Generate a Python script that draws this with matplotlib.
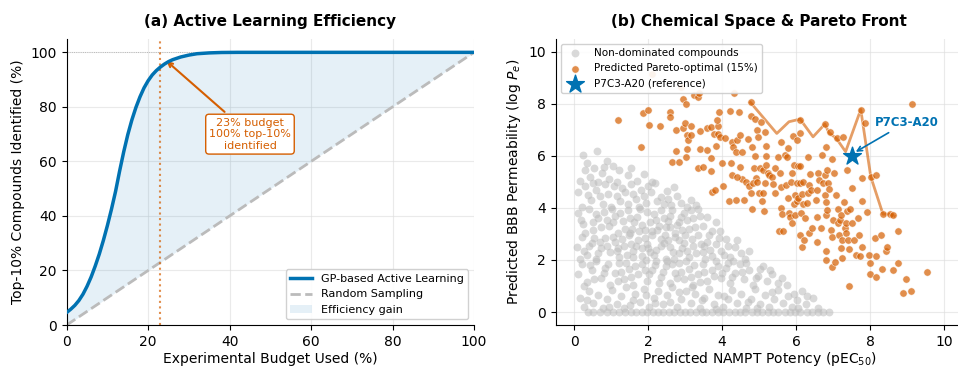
import matplotlib
matplotlib.use("Agg")
import matplotlib.pyplot as plt
import numpy as np

# ---- panel (a): active learning curve ----
budget = [0, 1, 2, 3, 4, 5, 6, 7, 8, 9, 10, 11, 12, 13, 14, 15, 16, 17, 18, 19, 20,
          21, 22, 23, 24, 25, 26, 28, 30, 32, 35, 38, 42, 50, 60, 70, 80, 90, 100]
gp_found = [4.6, 5.8, 7.2, 9.0, 11.3, 14.2, 17.6, 21.6, 26.0, 31.0, 36.5, 42.5, 49.0,
            56.5, 63.5, 69.8, 75.2, 79.8, 83.7, 87.0, 89.6, 91.7, 93.3, 94.6, 95.7,
            96.6, 97.3, 98.3, 99.0, 99.5, 99.8, 99.95, 100, 100, 100, 100, 100, 100, 100]
random_found = budget
budget_mark = 23

# ---- panel (b): chemical space ----
gray_pts = [
    # upper band
    (0.25, 6.02), (0.62, 6.2), (0.35, 5.72), (0.88, 5.82), (0.55, 5.55), (0.15, 5.05), (0.42, 5.2),
    (0.75, 5.35), (1.05, 5.6), (1.22, 5.45), (0.95, 5.1), (1.45, 5.25), (1.7, 5.05), (0.3, 5.45),
    (1.15, 5.0), (0.65, 5.0), (1.9, 5.3), (2.1, 5.0), (1.55, 5.55), (0.82, 5.58),
    (0.12, 4.6), (0.3, 4.85), (0.45, 4.3), (0.6, 4.7), (0.78, 4.15), (0.92, 4.55), (1.08, 4.85),
    (1.25, 4.25), (1.38, 4.6), (1.55, 4.9), (1.68, 4.35), (1.82, 4.7), (1.95, 4.2), (2.08, 4.6),
    (2.2, 4.95), (2.35, 4.4), (2.5, 4.65), (2.62, 4.1), (2.78, 4.45), (2.9, 4.2), (3.05, 4.05),
    (0.22, 4.05), (0.52, 4.95), (1.0, 4.05), (1.45, 4.15), (2.0, 4.85), (2.42, 4.15), (1.15, 4.45),
    (0.7, 4.45), (1.75, 4.05), (2.25, 4.25), (2.7, 4.8), (3.15, 4.3), (0.38, 4.5), (1.9, 4.45),
    (1.3, 4.75), (0.85, 4.9), (2.55, 4.35), (3.3, 4.1), (1.6, 4.55),
    (0.1, 3.8), (0.25, 3.4), (0.4, 3.95), (0.52, 3.15), (0.65, 3.6), (0.8, 3.85), (0.95, 3.3),
    (1.1, 3.7), (1.2, 3.05), (1.32, 3.5), (1.45, 3.9), (1.58, 3.2), (1.7, 3.65), (1.85, 3.35),
    (1.98, 3.85), (2.1, 3.1), (2.22, 3.55), (2.35, 3.9), (2.48, 3.25), (2.6, 3.7), (2.72, 3.05),
    (2.85, 3.45), (2.98, 3.8), (3.1, 3.2), (3.22, 3.6), (3.35, 3.95), (3.48, 3.3), (3.6, 3.65),
    (3.72, 3.1), (3.85, 3.45), (0.3, 3.05), (0.72, 3.25), (1.02, 3.95), (1.38, 3.2), (1.78, 3.95),
    (2.05, 3.45), (2.42, 3.6), (2.78, 3.35), (3.05, 3.55), (3.4, 3.7), (0.58, 3.75), (0.88, 3.55),
    (1.25, 3.8), (1.62, 3.45), (1.92, 3.15), (2.3, 3.3), (2.65, 3.9), (2.92, 3.15), (3.28, 3.25),
    (3.95, 3.1), (0.18, 3.55), (1.5, 3.6), (2.15, 3.75), (2.55, 3.5), (3.15, 3.9),
    (0.08, 2.5), (0.22, 2.9), (0.35, 2.2), (0.48, 2.65), (0.6, 2.05), (0.72, 2.45), (0.85, 2.85),
    (0.98, 2.3), (1.1, 2.7), (1.22, 2.1), (1.35, 2.55), (1.48, 2.95), (1.6, 2.35), (1.72, 2.75),
    (1.85, 2.15), (1.98, 2.6), (2.1, 2.95), (2.22, 2.4), (2.35, 2.8), (2.48, 2.05), (2.6, 2.5),
    (2.72, 2.9), (2.85, 2.25), (2.98, 2.65), (3.1, 2.1), (3.22, 2.55), (3.35, 2.95), (3.48, 2.3),
    (3.6, 2.7), (3.72, 2.15), (3.85, 2.6), (3.98, 2.35), (4.1, 2.8), (4.22, 2.1), (4.35, 2.5),
    (4.5, 2.25), (4.62, 2.05), (0.28, 2.35), (0.55, 2.85), (0.9, 2.55), (1.15, 2.35), (1.42, 2.2),
    (1.68, 2.55), (1.92, 2.85), (2.15, 2.2), (2.42, 2.65), (2.68, 2.3), (2.92, 2.45), (3.18, 2.8),
    (3.42, 2.6), (3.68, 2.4), (3.92, 2.85), (4.15, 2.55), (4.4, 2.75), (0.15, 2.05), (0.65, 2.25),
    (1.05, 2.9), (1.55, 2.6), (2.05, 2.3), (2.55, 2.75), (3.05, 2.35), (3.55, 2.05), (4.05, 2.2),
    (4.72, 2.35), (0.4, 2.55),
    (0.1, 1.45), (0.22, 1.85), (0.35, 1.15), (0.48, 1.6), (0.6, 1.95), (0.72, 1.3), (0.85, 1.7),
    (0.98, 1.05), (1.1, 1.5), (1.22, 1.9), (1.35, 1.25), (1.48, 1.65), (1.6, 1.05), (1.72, 1.45),
    (1.85, 1.85), (1.98, 1.2), (2.1, 1.6), (2.22, 1.95), (2.35, 1.35), (2.48, 1.75), (2.6, 1.1),
    (2.72, 1.5), (2.85, 1.9), (2.98, 1.25), (3.1, 1.65), (3.22, 1.05), (3.35, 1.45), (3.48, 1.85),
    (3.6, 1.2), (3.72, 1.6), (3.85, 1.95), (3.98, 1.3), (4.1, 1.7), (4.22, 1.1), (4.35, 1.5),
    (4.48, 1.85), (4.6, 1.25), (4.72, 1.6), (4.85, 1.05), (4.98, 1.4), (5.1, 1.75), (5.22, 1.2),
    (5.35, 1.45), (5.5, 1.1), (5.62, 1.3), (0.28, 1.0), (0.55, 1.25), (0.92, 1.85), (1.28, 1.55),
    (1.65, 1.75), (2.02, 1.45), (2.4, 1.55), (2.78, 1.3), (3.15, 1.35), (3.52, 1.55), (3.9, 1.75),
    (4.28, 1.35), (4.65, 1.9), (5.02, 1.65), (0.42, 1.8), (0.8, 1.5), (1.18, 1.2), (1.55, 1.35),
    (1.92, 1.6), (2.3, 1.1), (2.65, 1.85), (3.02, 1.95), (3.4, 1.15), (3.78, 1.4), (4.15, 1.9),
    (4.55, 1.55), (4.92, 1.3), (5.3, 1.6), (5.75, 1.05), (2.9, 1.55),
    (0.15, 0.55), (0.28, 0.2), (0.4, 0.8), (0.52, 0.35), (0.65, 0.65), (0.78, 0.15), (0.9, 0.5),
    (1.02, 0.85), (1.15, 0.3), (1.28, 0.6), (1.4, 0.95), (1.52, 0.25), (1.65, 0.7), (1.78, 0.4),
    (1.9, 0.9), (2.02, 0.2), (2.15, 0.55), (2.28, 0.8), (2.4, 0.3), (2.52, 0.65), (2.65, 0.95),
    (2.78, 0.2), (2.9, 0.5), (3.02, 0.8), (3.15, 0.35), (3.28, 0.7), (3.4, 0.15), (3.52, 0.55),
    (3.65, 0.9), (3.78, 0.3), (3.9, 0.65), (4.02, 0.2), (4.15, 0.5), (4.28, 0.85), (4.4, 0.35),
    (4.52, 0.7), (4.65, 0.15), (4.78, 0.5), (4.9, 0.9), (5.02, 0.3), (5.15, 0.65), (5.28, 0.2),
    (5.4, 0.5), (5.52, 0.85), (5.65, 0.35), (5.78, 0.6), (5.9, 0.2), (6.02, 0.45), (6.15, 0.8),
    (6.28, 0.3), (6.45, 0.55), (6.6, 0.15), (6.3, 0.62), (0.35, 0.45), (0.95, 0.2), (1.6, 0.45),
    (2.2, 0.35), (2.85, 0.75), (3.45, 0.45), (4.05, 0.6), (4.7, 0.4), (5.35, 0.75), (5.95, 0.7),
    (1.35, 0.15), (2.6, 0.4), (3.85, 0.1), (4.95, 0.15), (6.05, 0.15), (1.95, 0.65), (3.2, 0.95),
    # denser core
    (1.3, 2.8), (1.75, 3.1), (2.0, 2.45), (2.45, 2.95), (2.85, 2.75), (1.5, 3.05), (2.25, 3.15),
    (1.05, 3.45), (1.85, 2.45), (2.7, 2.05), (3.3, 2.25), (1.4, 1.9), (2.5, 1.95), (3.65, 2.95),
    (0.7, 2.7), (1.95, 2.0), (3.0, 2.95), (2.2, 1.8), (1.2, 2.45), (2.6, 3.25), (3.5, 2.55),
    (1.6, 2.1), (2.9, 3.65), (2.35, 2.55), (0.5, 3.45), (4.3, 1.95), (4.0, 1.5), (3.25, 1.8),
]
# compounds clipped at zero permeability
gray_floor_x = [0.38, 0.52, 0.71, 0.9, 1.04, 1.22, 1.37, 1.55, 1.68, 1.83, 1.97, 2.13, 2.26,
                2.41, 2.57, 2.7, 2.86, 3.0, 3.14, 3.31, 3.45, 3.58, 3.74, 3.9, 4.03, 4.18,
                4.35, 4.49, 4.62, 4.8, 4.94, 5.08, 5.25, 5.38, 5.52, 5.7, 5.84, 5.97, 6.12,
                6.3, 6.44, 6.6, 6.72, 6.88]

pareto_pts = [
    (1.20, 7.37), (1.80, 6.33), (1.87, 7.63), (2.00, 7.78), (2.02, 7.18), (2.31, 7.14),
    (2.12, 9.14), (2.88, 8.63), (2.94, 8.18), (3.02, 7.99), (3.23, 8.34), (3.36, 8.25),
    (3.38, 8.43), (2.59, 7.68), (2.60, 7.48), (2.66, 5.75), (2.85, 5.77), (2.75, 6.20),
    (2.75, 6.99), (2.95, 7.06), (3.01, 7.25), (3.04, 6.81), (3.07, 6.61), (3.04, 6.27),
    (3.02, 5.97), (3.16, 7.16), (3.17, 6.80), (3.36, 5.52), (3.41, 6.95), (3.40, 6.25),
    (3.49, 5.58), (3.60, 7.08), (3.60, 6.22), (3.69, 5.93), (3.71, 5.43), (3.73, 4.60),
    (3.80, 4.69), (3.71, 7.12), (3.78, 6.82), (3.88, 7.14), (3.89, 6.82), (3.84, 6.39),
    (3.87, 7.37), (3.93, 7.68), (3.95, 6.71), (4.00, 5.74), (4.03, 4.84), (4.19, 4.28),
    (4.08, 6.70), (4.21, 7.72), (4.23, 5.74), (4.26, 5.26), (4.28, 6.52), (4.33, 8.43),
    (4.31, 6.35), (4.37, 6.16), (4.41, 6.61), (4.45, 7.68), (4.48, 6.79), (4.55, 6.16),
    (4.49, 5.58), (4.53, 5.10), (4.37, 4.31), (4.59, 4.31), (4.41, 5.20), (4.64, 5.01),
    (4.72, 4.84), (4.77, 8.05), (4.77, 7.54), (4.69, 6.66), (4.80, 6.33), (4.89, 7.40),
    (4.94, 6.99), (4.98, 6.71), (4.90, 6.00), (4.86, 5.52), (4.91, 5.13), (4.83, 4.94),
    (4.78, 4.58), (4.82, 3.94), (4.95, 5.00), (5.00, 4.56), (5.03, 5.52), (5.11, 5.45),
    (5.05, 7.31), (5.15, 6.93), (5.18, 5.99), (5.20, 5.65), (5.23, 5.35), (5.16, 4.97),
    (5.11, 4.58), (5.09, 4.26), (5.14, 3.87), (5.27, 5.26), (5.36, 5.17), (5.43, 5.52),
    (5.38, 4.91), (5.43, 4.56), (5.20, 6.38), (5.52, 5.97), (5.56, 5.33), (5.60, 4.81),
    (5.54, 3.11), (5.64, 3.11), (5.60, 3.98), (5.62, 3.76), (5.60, 6.52), (5.71, 6.03),
    (5.73, 4.88), (5.75, 5.97), (5.78, 6.29), (5.77, 4.39), (5.80, 3.79), (5.83, 3.64),
    (5.87, 5.00), (5.90, 5.33), (5.93, 6.76), (5.90, 3.43), (5.97, 3.72), (5.94, 4.16),
    (6.04, 6.61), (5.95, 5.65), (6.02, 4.97), (6.06, 5.61), (5.97, 4.49), (6.02, 4.26),
    (6.06, 4.39), (6.10, 5.61), (6.10, 4.94), (6.14, 3.79), (6.10, 6.89), (6.11, 7.37),
    (6.17, 4.53), (6.20, 5.00), (6.19, 4.16), (6.24, 3.60), (6.31, 4.19), (6.33, 4.56),
    (6.36, 4.88), (6.38, 5.29), (6.40, 4.68), (6.33, 5.97), (6.10, 2.96), (6.17, 2.51),
    (6.22, 2.77), (6.35, 3.05), (6.44, 3.21), (6.53, 4.30), (6.56, 4.69), (6.56, 2.70),
    (6.58, 3.66), (6.60, 5.33), (6.62, 5.08), (6.67, 3.21), (6.70, 6.03), (6.72, 4.94),
    (6.77, 5.26), (6.78, 4.49), (6.80, 6.35), (6.81, 4.22), (6.80, 3.73), (6.78, 7.21),
    (6.85, 5.45), (6.87, 4.94), (6.85, 3.92), (6.82, 2.36), (6.82, 2.00), (6.89, 4.71),
    (6.91, 6.93), (6.94, 3.15), (6.96, 2.87), (6.96, 5.86), (6.98, 1.74), (7.01, 3.53),
    (7.04, 5.33), (7.06, 1.94), (7.07, 4.49), (7.14, 3.94), (7.12, 6.67), (7.16, 2.96),
    (7.14, 3.41), (7.18, 3.53), (7.21, 3.73), (7.23, 2.77), (7.21, 2.45), (7.25, 2.09),
    (7.27, 6.73), (7.30, 4.22), (7.32, 3.21), (7.34, 3.02), (7.36, 3.41), (7.37, 5.46),
    (7.37, 3.87), (7.41, 2.77), (7.44, 2.41), (7.44, 1.01), (7.47, 3.94), (7.50, 4.75),
    (7.52, 3.41), (7.57, 2.77), (7.61, 2.19), (7.68, 3.60), (7.70, 2.96), (7.72, 2.15),
    (7.75, 7.76), (7.77, 5.13), (7.79, 2.51), (7.79, 4.28), (7.86, 7.25), (7.91, 3.85),
    (7.97, 2.19), (7.99, 1.87), (8.00, 1.46), (8.04, 5.17), (8.17, 1.36), (8.15, 2.16),
    (8.14, 2.83), (8.17, 5.26), (8.29, 2.96), (8.32, 1.64), (8.35, 3.76), (8.42, 2.36),
    (8.47, 2.48), (8.54, 3.76), (8.62, 3.73), (8.61, 1.61), (8.77, 3.12), (8.77, 1.89),
    (8.88, 0.72), (8.96, 1.28), (9.11, 0.81), (9.14, 7.98), (9.53, 1.55),
]
front_x = [4.77, 5.48, 5.81, 6.11, 6.46, 6.78, 6.89, 7.09, 7.34, 7.75, 8.02, 8.35, 8.54, 8.65]
front_y = [8.05, 6.86, 7.31, 7.41, 6.73, 7.22, 6.89, 6.67, 6.16, 7.78, 5.20, 3.76, 3.76, 3.69]
ref_potency, ref_perm = 7.5, 6.0

blue = "#0072B2"
orange = "#D55E00"

fig = plt.figure(figsize=(9.58, 3.67), dpi=100)
ax1 = fig.add_axes([0.0696, 0.1144, 0.4252, 0.7801])
ax2 = fig.add_axes([0.5799, 0.1144, 0.4248, 0.7801])

# (a)
ax1.fill_between(budget, random_found, gp_found, color=blue, alpha=0.1, lw=0,
                 label="Efficiency gain")
ax1.plot(budget, gp_found, color=blue, lw=2.5, label="GP-based Active Learning", zorder=4)
ax1.plot(budget, random_found, color="#BBBBBB", lw=2, ls="--", label="Random Sampling")
ax1.axhline(100, color="#AAAAAA", lw=0.6, ls=":", zorder=1)
ax1.axvline(budget_mark, color=orange, lw=1.5, ls=":", alpha=0.7)
ax1.annotate("23% budget\n100% top-10%\nidentified", xy=(24, 97.5), xytext=(45, 70),
             fontsize=8, color=orange, ha="center", va="center",
             bbox=dict(boxstyle="round,pad=0.3", fc="white", ec=orange, lw=1),
             arrowprops=dict(arrowstyle="->", color=orange, lw=1.5))
ax1.set_xlim(0, 100)
ax1.set_ylim(0, 105)
ax1.set_xlabel("Experimental Budget Used (%)", fontsize=10, labelpad=2)
ax1.set_ylabel("Top-10% Compounds Identified (%)", fontsize=10)
ax1.set_title("(a) Active Learning Efficiency", fontsize=11, fontweight="bold", pad=9)
h, l = ax1.get_legend_handles_labels()
ax1.legend([h[1], h[2], h[0]], [l[1], l[2], l[0]], loc="lower right", fontsize=8, framealpha=0.9)

# (b)
gx, gy = np.array(gray_pts).T
ax2.scatter(np.concatenate([gx, gray_floor_x]), np.concatenate([gy, np.zeros(len(gray_floor_x))]),
            s=32, color="#BBBBBB", alpha=0.55, lw=0, label="Non-dominated compounds")
px, py = np.array(pareto_pts).T
ax2.scatter(px, py, s=28, color=orange, alpha=0.7, edgecolor="white", lw=0.5,
            label="Predicted Pareto-optimal (15%)", zorder=3)
ax2.plot(front_x, front_y, color=orange, lw=2, alpha=0.6, zorder=2)
ax2.scatter([ref_potency], [ref_perm], marker="*", s=180, color=blue, zorder=5,
            label="P7C3-A20 (reference)")
ax2.annotate("P7C3-A20", xy=(ref_potency + 0.05, ref_perm + 0.1), xytext=(9.0, 7.3),
             fontsize=8.5, fontweight="bold", color=blue, ha="center", va="center",
             arrowprops=dict(arrowstyle="->", color=blue, lw=1.2))
ax2.set_xlim(-0.5, 10.5)
ax2.set_ylim(-0.5, 10.5)
ax2.set_xticks([0, 2, 4, 6, 8, 10])
ax2.set_yticks([0, 2, 4, 6, 8, 10])
ax2.set_xlabel("Predicted NAMPT Potency (pEC$_{50}$)", fontsize=10, labelpad=1)
ax2.set_ylabel("Predicted BBB Permeability (log $P_e$)", fontsize=10)
ax2.set_title("(b) Chemical Space & Pareto Front", fontsize=11, fontweight="bold", pad=9)
ax2.legend(loc="upper left", fontsize=7.5, framealpha=0.9)

for ax in (ax1, ax2):
    ax.grid(True, color="#DDDDDD", alpha=0.6, lw=0.8)
    ax.set_axisbelow(True)
    ax.spines["top"].set_visible(False)
    ax.spines["right"].set_visible(False)
    ax.tick_params(labelsize=10)

fig.savefig("out.png", dpi=100)
